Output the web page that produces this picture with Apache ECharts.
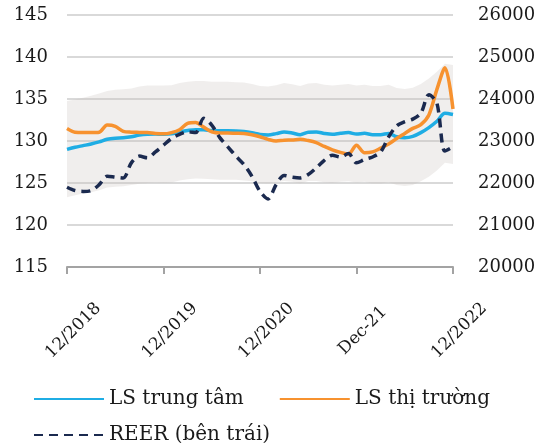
<!DOCTYPE html>
<html>
<head>
<meta charset="utf-8">
<script src="https://cdn.jsdelivr.net/npm/echarts@6/dist/echarts.min.js"></script>
<style>
  html, body { margin: 0; padding: 0; background: #fff; }
  #chart { width: 548px; height: 443px; }
</style>
</head>
<body>
<div id="chart"></div>
<script>
/* ── data (monthly, 12/2018 → 12/2022) ── */
const months = [
  "12/2018", "1/2019", "2/2019", "3/2019", "4/2019", "5/2019", "6/2019", "7/2019", "8/2019", "9/2019", "10/2019", "11/2019",
  "12/2019", "1/2020", "2/2020", "3/2020", "4/2020", "5/2020", "6/2020", "7/2020", "8/2020", "9/2020", "10/2020", "11/2020",
  "12/2020", "1/2021", "2/2021", "3/2021", "4/2021", "5/2021", "6/2021", "7/2021", "8/2021", "9/2021", "10/2021", "11/2021",
  "Dec-21", "1/2022", "2/2022", "3/2022", "4/2022", "5/2022", "6/2022", "7/2022", "8/2022", "9/2022", "10/2022", "11/2022",
  "12/2022"
];

// LS trung tâm (right axis)
const centralRate = [
  22800, 22850, 22890, 22930, 22980, 23040, 23065, 23075, 23100, 23140, 23160, 23165,
  23160, 23170, 23220, 23250, 23270, 23265, 23250, 23245, 23245, 23240, 23225, 23195,
  23155, 23145, 23175, 23215, 23190, 23150, 23210, 23215, 23180, 23160, 23185, 23200,
  23165, 23185, 23150, 23150, 23180, 23100, 23080, 23110, 23200, 23320, 23470, 23660,
  23630
];

// LS thị trường (right axis)
const marketRate = [
  23300, 23210, 23200, 23200, 23210, 23380, 23350, 23230, 23210, 23205, 23200, 23180,
  23170, 23200, 23270, 23420, 23440, 23330, 23220, 23190, 23190, 23185, 23180, 23150,
  23100, 23040, 23000, 23020, 23025, 23040, 23010, 22960, 22870, 22790, 22730, 22690,
  22900, 22720, 22740, 22830, 22930, 23060, 23180, 23300, 23390, 23620, 24230, 24745,
  23760
];

// REER (left axis)
const reer = [
  124.5, 124.1, 124.0, 124.1, 124.8, 125.8, 125.7, 125.6, 127.4, 128.2, 128.0, 128.7,
  129.5, 130.3, 130.8, 131.1, 131.0, 132.7, 131.9, 130.4, 129.3, 128.2, 127.2, 125.8,
  124.0, 123.1, 124.8, 125.9, 125.7, 125.6, 126.0, 126.8, 127.7, 128.3, 128.1, 128.5,
  127.4, 127.8, 128.1, 128.7, 130.5, 131.8, 132.3, 132.6, 133.3, 135.5, 134.5, 128.8,
  129.3
];

// grey trading band (right axis)
const bandLow = [
  21660, 21710, 21750, 21780, 21830, 21890, 21910, 21920, 21950, 21980, 22000, 22010,
  22000, 22010, 22060, 22090, 22110, 22100, 22090, 22080, 22080, 22080, 22060, 22040,
  22000, 21990, 22020, 22050, 22030, 21990, 22050, 22050, 22020, 22000, 22030, 22040,
  22010, 22030, 21990, 21990, 22020, 21950, 21930, 21950, 22040, 22150, 22300, 22480,
  22450
];
const bandHigh = [
  23950, 23990, 24030, 24080, 24130, 24190, 24220, 24230, 24250, 24300, 24320, 24320,
  24320, 24330, 24380, 24410, 24430, 24430, 24410, 24410, 24410, 24400, 24390, 24360,
  24310, 24300, 24330, 24380, 24350, 24310, 24370, 24380, 24340, 24320, 24340, 24360,
  24320, 24340, 24310, 24310, 24340, 24260, 24240, 24270, 24360, 24490, 24650, 24840,
  24810
];

const leftTicks = { min: 115, max: 145, step: 5 };
const rightTicks = { min: 20000, max: 26000, step: 1000 };

/* ── colours ── */
const BLUE = "#1fade4";
const ORANGE = "#f7922f";
const NAVY = "#1b2a4f";
const FONT = "DejaVu Serif";

const chart = echarts.init(document.getElementById("chart"));

const legendText = { fontFamily: FONT, fontSize: 20, color: "#1a1a1a" };

chart.setOption({
  animation: false,
  grid: { left: 67, right: 95, top: 15, bottom: 176 },
  legend: [
    {
      left: 28, top: 384, itemWidth: 70, itemHeight: 14, itemGap: 35,
      itemStyle: { opacity: 0 },
      textStyle: legendText,
      data: ["LS trung tâm", "LS thị trường"],
    },
    {
      left: 28, top: 420, itemWidth: 70, itemHeight: 14,
      itemStyle: { opacity: 0 },
      textStyle: legendText,
      data: ["REER (bên trái)"],
    },
  ],
  xAxis: {
    type: "category",
    data: months,
    boundaryGap: false,
    axisLine: { lineStyle: { color: "#a3a3a3", width: 2 } },
    axisTick: { interval: 11, length: 7, lineStyle: { color: "#a3a3a3", width: 2 } },
    axisLabel: {
      interval: 11, rotate: 45, align: "center", verticalAlign: "middle",
      margin: 70, padding: [0, 0, 0, 18],
      fontFamily: FONT, fontSize: 17, color: "#1a1a1a",
    },
    splitLine: { show: false },
  },
  yAxis: [
    {
      type: "value",
      min: leftTicks.min, max: leftTicks.max, interval: leftTicks.step,
      axisLine: { show: false }, axisTick: { show: false },
      axisLabel: { margin: 19, fontFamily: FONT, fontSize: 18, color: "#1a1a1a" },
      splitLine: { lineStyle: { color: "#d9d9d9", width: 2 } },
    },
    {
      type: "value",
      min: rightTicks.min, max: rightTicks.max, interval: rightTicks.step,
      axisLine: { show: false }, axisTick: { show: false },
      axisLabel: {
        margin: 25, fontFamily: FONT, fontSize: 18, color: "#1a1a1a",
        formatter: (v) => String(v),
      },
      splitLine: { show: false },
    },
  ],
  series: [
    {
      name: "bandBase", type: "line", yAxisIndex: 1, stack: "band",
      data: bandLow, symbol: "none", lineStyle: { opacity: 0 }, silent: true, z: 1,
    },
    {
      name: "band", type: "line", yAxisIndex: 1, stack: "band",
      data: bandHigh.map((v, i) => v - bandLow[i]),
      symbol: "none", lineStyle: { opacity: 0 }, silent: true, z: 1,
      areaStyle: { color: "rgba(200,194,190,0.4)" },
    },
    {
      name: "LS trung tâm", type: "line", yAxisIndex: 1, data: centralRate,
      symbol: "none", smooth: 0.3, z: 3,
      lineStyle: { color: BLUE, width: 3.5 }, itemStyle: { color: BLUE },
    },
    {
      name: "LS thị trường", type: "line", yAxisIndex: 1, data: marketRate,
      symbol: "none", smooth: 0.3, z: 4,
      lineStyle: { color: ORANGE, width: 3.5 }, itemStyle: { color: ORANGE },
    },
    {
      name: "REER (bên trái)", type: "line", yAxisIndex: 0, data: reer,
      symbol: "none", smooth: 0.3, z: 5,
      lineStyle: { color: NAVY, width: 3.5, type: [9, 6] }, itemStyle: { color: NAVY },
    },
  ],
});
</script>
</body>
</html>
